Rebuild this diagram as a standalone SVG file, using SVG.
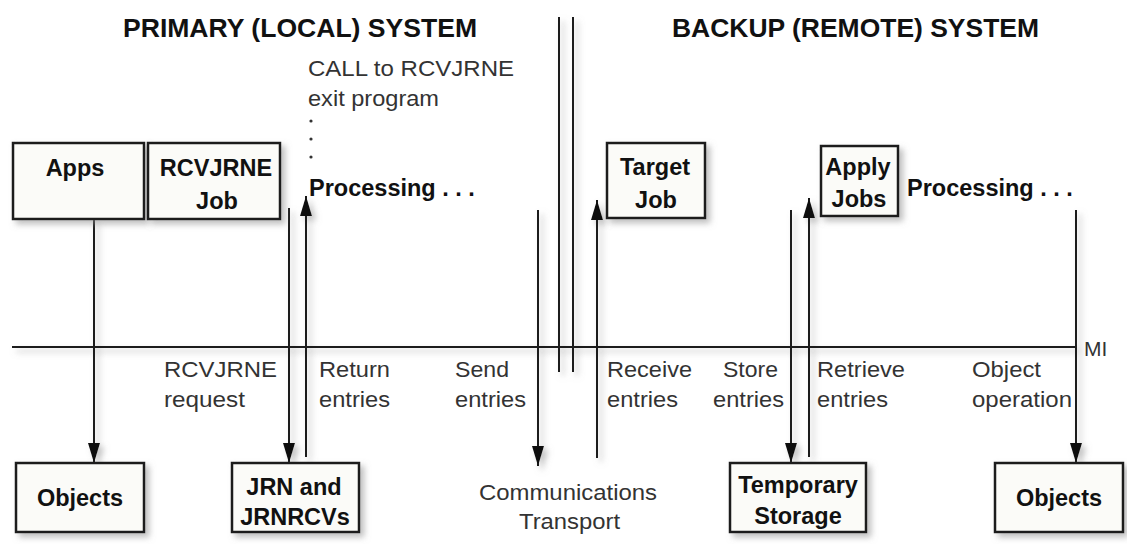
<svg xmlns="http://www.w3.org/2000/svg" width="1127" height="544" viewBox="0 0 1127 544">
<style>
.box{fill:#fbfbf8;stroke:#1a1a1a;stroke-width:2.5}
.ln{stroke:#1a1a1a;stroke-width:2;fill:none}
.arr{stroke:#1a1a1a;stroke-width:2;fill:none;marker-end:url(#ah)}
.t{font-family:"Liberation Sans",Arial,Helvetica,sans-serif;fill:#333;font-size:22.5px}
.b{font-family:"Liberation Sans",Arial,Helvetica,sans-serif;fill:#111;font-size:23.5px;font-weight:bold}
.h{font-family:"Liberation Sans",Arial,Helvetica,sans-serif;fill:#111;font-size:26px;font-weight:bold}
.c{text-anchor:middle}
</style>
<defs>
<marker id="ah" viewBox="0 0 20 12" refX="20" refY="6" markerWidth="20" markerHeight="12" markerUnits="userSpaceOnUse" orient="auto">
<path d="M0,0 L20,6 L0,12 z" fill="#111"/>
</marker>
<filter id="sh" x="-20%" y="-20%" width="150%" height="150%">
<feDropShadow dx="4" dy="4" stdDeviation="3" flood-color="#888" flood-opacity="0.55"/>
</filter>
</defs>
<rect width="1127" height="544" fill="#fff"/>

<text class="h" x="123" y="37" textLength="354" lengthAdjust="spacingAndGlyphs">PRIMARY (LOCAL) SYSTEM</text>
<text class="h" x="672" y="37" textLength="367" lengthAdjust="spacingAndGlyphs">BACKUP (REMOTE) SYSTEM</text>

<g id="connectors" filter="url(#sh)">
<line class="ln" x1="12" y1="347" x2="1076" y2="347"/>
<line class="ln" x1="559" y1="17" x2="559" y2="372"/>
<line class="ln" x1="573" y1="17" x2="573" y2="372"/>
<line class="arr" x1="94" y1="219" x2="94" y2="463"/>
<line class="arr" x1="289" y1="208" x2="289" y2="463"/>
<line class="arr" x1="306" y1="457" x2="306" y2="196"/>
<line class="arr" x1="538" y1="210" x2="538" y2="466"/>
<line class="arr" x1="597" y1="458" x2="597" y2="200"/>
<line class="arr" x1="791" y1="210" x2="791" y2="463"/>
<line class="arr" x1="809" y1="457" x2="809" y2="198"/>
<line class="arr" x1="1076" y1="210" x2="1076" y2="463"/>
</g>

<g id="apps"><rect class="box" filter="url(#sh)" x="13" y="143" width="131" height="76"/><text class="b c" x="75" y="176">Apps</text></g>
<g id="rcvjrne-job"><rect class="box" filter="url(#sh)" x="148" y="143" width="132" height="76"/><text class="b c" x="216" y="176">RCVJRNE</text><text class="b c" x="217" y="209">Job</text></g>
<g id="target-job"><rect class="box" filter="url(#sh)" x="607" y="143" width="98" height="75"/><text class="b c" x="655" y="175">Target</text><text class="b c" x="656" y="208">Job</text></g>
<g id="apply-jobs"><rect class="box" filter="url(#sh)" x="821" y="146" width="77" height="70"/><text class="b c" x="858" y="175">Apply</text><text class="b c" x="859" y="207">Jobs</text></g>
<g id="objects-left"><rect class="box" filter="url(#sh)" x="16" y="463" width="128" height="69"/><text class="b c" x="80" y="506">Objects</text></g>
<g id="jrn"><rect class="box" filter="url(#sh)" x="232" y="463" width="127" height="69"/><text class="b c" x="294" y="495">JRN and</text><text class="b c" x="295" y="525">JRNRCVs</text></g>
<g id="comm"><text class="t" x="479" y="500" textLength="178" lengthAdjust="spacingAndGlyphs">Communications</text><text class="t" x="519" y="529" textLength="101" lengthAdjust="spacingAndGlyphs">Transport</text></g>
<g id="temp"><rect class="box" filter="url(#sh)" x="730" y="463" width="136" height="69"/><text class="b c" x="798" y="493">Temporary</text><text class="b c" x="798" y="524">Storage</text></g>
<g id="objects-right"><rect class="box" filter="url(#sh)" x="995" y="463" width="128" height="69"/><text class="b c" x="1059" y="506">Objects</text></g>

<g id="labels">
<text class="t" x="308" y="76" textLength="206" lengthAdjust="spacingAndGlyphs">CALL to RCVJRNE</text>
<text class="t" x="308" y="106" textLength="131" lengthAdjust="spacingAndGlyphs">exit program</text>
<circle cx="311" cy="121" r="1.6" fill="#333"/>
<circle cx="311" cy="139" r="1.6" fill="#333"/>
<circle cx="311" cy="157" r="1.6" fill="#333"/>
<text class="b" x="309" y="196">Processing . . .</text>
<text class="b" x="907" y="196">Processing . . .</text>
<text class="t" x="1084" y="356" style="font-size:21px">MI</text>
<text class="t" x="164" y="377" textLength="113" lengthAdjust="spacingAndGlyphs">RCVJRNE</text>
<text class="t" x="164" y="407" textLength="81" lengthAdjust="spacingAndGlyphs">request</text>
<text class="t" x="319" y="377" textLength="71" lengthAdjust="spacingAndGlyphs">Return</text>
<text class="t" x="319" y="407" textLength="71" lengthAdjust="spacingAndGlyphs">entries</text>
<text class="t" x="455" y="377" textLength="54" lengthAdjust="spacingAndGlyphs">Send</text>
<text class="t" x="455" y="407" textLength="71" lengthAdjust="spacingAndGlyphs">entries</text>
<text class="t" x="607" y="377" textLength="85" lengthAdjust="spacingAndGlyphs">Receive</text>
<text class="t" x="607" y="407" textLength="71" lengthAdjust="spacingAndGlyphs">entries</text>
<text class="t" x="723" y="377" textLength="55" lengthAdjust="spacingAndGlyphs">Store</text>
<text class="t" x="713" y="407" textLength="71" lengthAdjust="spacingAndGlyphs">entries</text>
<text class="t" x="817" y="377" textLength="88" lengthAdjust="spacingAndGlyphs">Retrieve</text>
<text class="t" x="817" y="407" textLength="71" lengthAdjust="spacingAndGlyphs">entries</text>
<text class="t" x="972" y="377" textLength="69" lengthAdjust="spacingAndGlyphs">Object</text>
<text class="t" x="972" y="407" textLength="100" lengthAdjust="spacingAndGlyphs">operation</text>
</g>
</svg>
